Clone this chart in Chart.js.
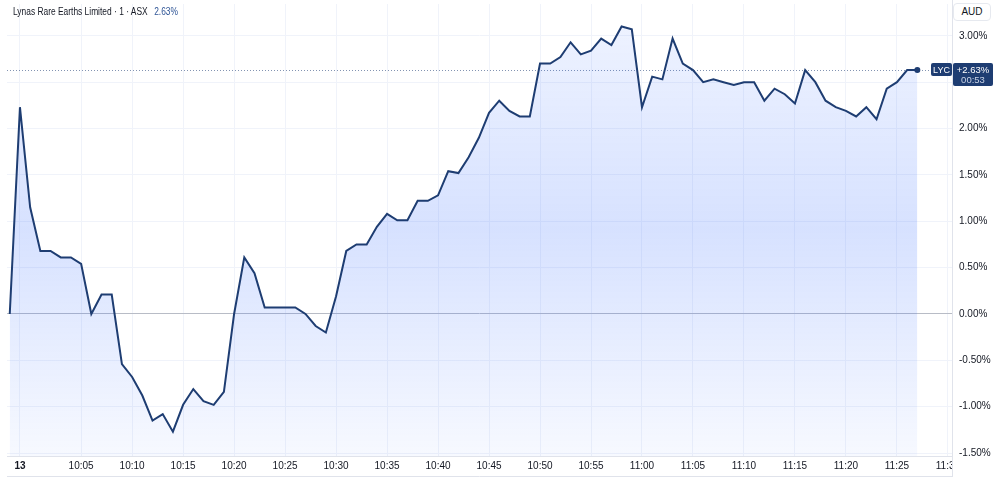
<!DOCTYPE html>
<html>
<head>
<meta charset="utf-8">
<script src="https://cdn.jsdelivr.net/npm/chart.js@4.4.1/dist/chart.umd.min.js"></script>
<style>
  html, body { margin: 0; padding: 0; background: #fff; }
  #wrap { position: relative; width: 1000px; height: 481px; }
  #title {
    position: absolute; left: 13px; top: 6px; white-space: nowrap;
    font: 10px "Liberation Sans", sans-serif; color: #131722;
    transform: scaleX(0.84); transform-origin: 0 0;
  }
  #title .chg { color: #2f5596; margin-left: 5px; }
  #aud {
    position: absolute; left: 953px; top: 3px; width: 38px; height: 18px;
    border: 1px solid #e6e9ef; border-radius: 4px; box-sizing: border-box;
    font: 10px "Liberation Sans", sans-serif; color: #131722;
    text-align: center; line-height: 16px; background: #fff;
  }
</style>
</head>
<body>
<div id="wrap">
  <canvas id="chart" width="1000" height="481"></canvas>
  <div id="title">Lynas Rare Earths Limited · 1 · ASX <span class="chg">2.63%</span></div>
  <div id="aud">AUD</div>
</div>
<script>
// % change per 1-minute bar (bar index = position on axis)
var changes = [
  0.00, 2.23, 1.15, 0.68, 0.68, 0.61, 0.61, 0.54, 0.00, 0.21,
  0.21, -0.54, -0.68, -0.88, -1.15, -1.08, -1.27, -0.98, -0.81, -0.94,
  -0.98, -0.84, 0.00, 0.61, 0.44, 0.07, 0.07, 0.07, 0.07, 0.00,
  -0.13, -0.20, 0.19, 0.68, 0.75, 0.75, 0.94, 1.08, 1.01, 1.01,
  1.22, 1.22, 1.28, 1.54, 1.52, 1.69, 1.90, 2.17, 2.30, 2.19,
  2.13, 2.13, 2.70, 2.70, 2.77, 2.93, 2.80, 2.84, 2.97, 2.90,
  3.10, 3.07, 2.23, 2.56, 2.53, 2.97, 2.70, 2.63, 2.50, 2.53,
  2.50, 2.47, 2.50, 2.50, 2.30, 2.43, 2.37, 2.27, 2.63, 2.50,
  2.30, 2.23, 2.19, 2.13, 2.23, 2.10, 2.43, 2.50, 2.63, 2.63
];
var timeTickIndex = [1, 7, 12, 17, 22, 27, 32, 37, 42, 47, 52, 57, 62, 67, 72, 77, 82, 87, 92];
var timeTickLabels = ['13', '10:05', '10:10', '10:15', '10:20', '10:25', '10:30', '10:35', '10:40',
  '10:45', '10:50', '10:55', '11:00', '11:05', '11:10', '11:15', '11:20', '11:25', '11:30'];
var pctTicks = [-1.5, -1.0, -0.5, 0, 0.5, 1.0, 1.5, 2.0, 2.5, 3.0];
var symbol = 'LYC';
var lastTime = '00:53';

var points = changes.map(function(v, i) { return { x: i, y: v }; });
var lastIdx = changes.length - 1;
var lastVal = changes[lastIdx];
var navy = '#1e3d72';
var font = '"Liberation Sans", sans-serif';

function roundRect(ctx, x, y, w, h, r) {
  ctx.beginPath();
  ctx.moveTo(x + r, y);
  ctx.arcTo(x + w, y, x + w, y + h, r);
  ctx.arcTo(x + w, y + h, x, y + h, r);
  ctx.arcTo(x, y + h, x, y, r);
  ctx.arcTo(x, y, x + w, y, r);
  ctx.closePath();
}

var lastPricePlugin = {
  id: 'lastPrice',
  beforeDatasetsDraw: function(chart) {
    var ctx = chart.ctx, area = chart.chartArea;
    var y = Math.round(chart.scales.y.getPixelForValue(lastVal)) + 0.5;
    ctx.save();
    ctx.strokeStyle = 'rgba(30,61,114,0.55)';
    ctx.lineWidth = 1;
    ctx.setLineDash([1, 2]);
    ctx.beginPath();
    ctx.moveTo(area.left, y);
    ctx.lineTo(area.right - 20, y);
    ctx.stroke();
    ctx.restore();
  },
  afterDraw: function(chart) {
    var ctx = chart.ctx, area = chart.chartArea;
    var y = chart.scales.y.getPixelForValue(lastVal);
    ctx.save();
    // hide the part of the last time label that runs under the price axis
    ctx.fillStyle = '#fff';
    ctx.fillRect(area.right + 1, area.bottom + 1, 60, 40);
    ctx.strokeStyle = '#e0e3eb';
    ctx.lineWidth = 1;
    ctx.beginPath();
    ctx.moveTo(area.right + 0.5, 0);
    ctx.lineTo(area.right + 0.5, 477);
    ctx.moveTo(area.left, 476.5);
    ctx.lineTo(area.right, 476.5);
    ctx.stroke();

    // symbol tag
    ctx.fillStyle = navy;
    roundRect(ctx, area.right - 21, y - 7, 21, 13, 2);
    ctx.fill();
    ctx.fillStyle = '#fff';
    ctx.font = '9px ' + font;
    ctx.textAlign = 'center';
    ctx.textBaseline = 'middle';
    ctx.fillText(symbol, area.right - 10.5, y);

    // price tag
    ctx.fillStyle = navy;
    roundRect(ctx, area.right + 1, y - 7, 40, 23, 2);
    ctx.fill();
    ctx.fillStyle = '#fff';
    ctx.font = '9.5px ' + font;
    ctx.fillText('+' + lastVal.toFixed(2) + '%', area.right + 21, y);
    ctx.fillStyle = '#c9d3e6';
    ctx.fillText(lastTime, area.right + 21, y + 10);
    ctx.restore();
  }
};

var canvas = document.getElementById('chart');
new Chart(canvas.getContext('2d'), {
  type: 'line',
  data: {
    datasets: [{
      data: points,
      borderColor: navy,
      borderWidth: 2,
      tension: 0,
      fill: 'start',
      pointRadius: function(ctx) { return ctx.dataIndex === lastIdx ? 3 : 0; },
      pointBackgroundColor: navy,
      pointBorderWidth: 0,
      backgroundColor: function(ctx) {
        var area = ctx.chart.chartArea;
        if (!area) return 'rgba(41,98,255,0.15)';
        var g = ctx.chart.ctx.createLinearGradient(0, area.top, 0, area.bottom);
        g.addColorStop(0, 'rgba(41,98,255,0.07)');
        g.addColorStop(0.5, 'rgba(41,98,255,0.19)');
        g.addColorStop(1, 'rgba(41,98,255,0.04)');
        return g;
      }
    }]
  },
  options: {
    responsive: false,
    animation: false,
    events: [],
    layout: { padding: { left: 7, top: 1, right: 7, bottom: 4 } },
    plugins: { legend: { display: false }, tooltip: { enabled: false } },
    scales: {
      x: {
        type: 'linear',
        min: -0.27,
        max: 92.4,
        afterBuildTicks: function(scale) {
          scale.ticks = timeTickIndex.map(function(v) { return { value: v }; });
        },
        afterFit: function(scale) {
          scale.height = 21;
          scale.paddingLeft = 0;
          scale.paddingRight = 0;
        },
        ticks: {
          autoSkip: false,
          maxRotation: 0,
          padding: 4,
          color: '#131722',
          font: function(ctx) {
            return { family: font, size: 10, weight: ctx.index === 0 ? 'bold' : 'normal' };
          },
          callback: function(value) {
            var k = timeTickIndex.indexOf(value);
            return k >= 0 ? timeTickLabels[k] : '';
          }
        },
        grid: { color: '#f0f3fa', drawTicks: false },
        border: { display: true, color: '#e0e3eb' }
      },
      y: {
        position: 'right',
        min: -1.532,
        max: 3.343,
        afterBuildTicks: function(scale) {
          scale.ticks = pctTicks.map(function(v) { return { value: v }; });
        },
        afterFit: function(scale) {
          scale.width = 41;
          scale.paddingTop = 0;
          scale.paddingBottom = 0;
        },
        ticks: {
          padding: 7,
          color: '#131722',
          font: { family: font, size: 10 },
          callback: function(value) { return value.toFixed(2) + '%'; }
        },
        grid: {
          drawTicks: false,
          color: function(ctx) { return ctx.tick && ctx.tick.value === 0 ? '#b8bcc6' : '#f0f3fa'; }
        },
        border: { display: true, color: '#e0e3eb' }
      }
    }
  },
  plugins: [lastPricePlugin]
});
</script>
</body>
</html>
